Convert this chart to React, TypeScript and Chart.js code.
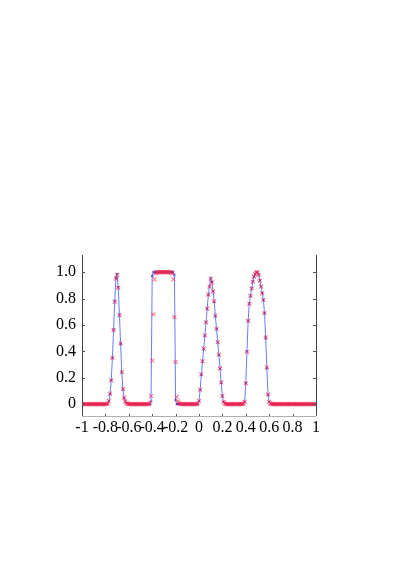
import React, { useEffect, useRef } from "react";
import { Chart, registerables } from "chart.js";

Chart.register(...registerables);

const xGrid = [
  -1.0, -0.99, -0.98, -0.97, -0.96, -0.95, -0.94, -0.93, -0.92, -0.91,
  -0.9, -0.89, -0.88, -0.87, -0.86, -0.85, -0.84, -0.83, -0.82, -0.81,
  -0.8, -0.79, -0.78, -0.77, -0.76, -0.75, -0.74, -0.73, -0.72, -0.71,
  -0.7, -0.69, -0.68, -0.67, -0.66, -0.65, -0.64, -0.63, -0.62, -0.61,
  -0.6, -0.59, -0.58, -0.57, -0.56, -0.55, -0.54, -0.53, -0.52, -0.51,
  -0.5, -0.49, -0.48, -0.47, -0.46, -0.45, -0.44, -0.43, -0.42, -0.41,
  -0.4, -0.39, -0.38, -0.37, -0.36, -0.35, -0.34, -0.33, -0.32, -0.31,
  -0.3, -0.29, -0.28, -0.27, -0.26, -0.25, -0.24, -0.23, -0.22, -0.21,
  -0.2, -0.19, -0.18, -0.17, -0.16, -0.15, -0.14, -0.13, -0.12, -0.11,
  -0.1, -0.09, -0.08, -0.07, -0.06, -0.05, -0.04, -0.03, -0.02, -0.01,
  0.0, 0.01, 0.02, 0.03, 0.04, 0.05, 0.06, 0.07, 0.08, 0.09,
  0.1, 0.11, 0.12, 0.13, 0.14, 0.15, 0.16, 0.17, 0.18, 0.19,
  0.2, 0.21, 0.22, 0.23, 0.24, 0.25, 0.26, 0.27, 0.28, 0.29,
  0.3, 0.31, 0.32, 0.33, 0.34, 0.35, 0.36, 0.37, 0.38, 0.39,
  0.4, 0.41, 0.42, 0.43, 0.44, 0.45, 0.46, 0.47, 0.48, 0.49,
  0.5, 0.51, 0.52, 0.53, 0.54, 0.55, 0.56, 0.57, 0.58, 0.59,
  0.6, 0.61, 0.62, 0.63, 0.64, 0.65, 0.66, 0.67, 0.68, 0.69,
  0.7, 0.71, 0.72, 0.73, 0.74, 0.75, 0.76, 0.77, 0.78, 0.79,
  0.8, 0.81, 0.82, 0.83, 0.84, 0.85, 0.86, 0.87, 0.88, 0.89,
  0.9, 0.91, 0.92, 0.93, 0.94, 0.95, 0.96, 0.97, 0.98, 0.99,
  1.0,
];

const redValues = [
  0, 0, 0, 0, 0, 0, 0, 0, 0, 0,
  0, 0, 0, 0, 0, 0, 0, 0, 0, 0,
  0, 0, 0.005, 0.025, 0.08, 0.18, 0.35, 0.56, 0.775, 0.95,
  0.98, 0.88, 0.675, 0.46, 0.245, 0.115, 0.05, 0.02, 0.008, 0.003,
  0, 0, 0, 0, 0, 0, 0, 0, 0, 0,
  0, 0, 0, 0, 0, 0, 0, 0, 0.01, 0.06,
  0.33, 0.68, 0.945, 0.99, 0.998, 1, 1, 1, 1, 1,
  1, 1, 1, 1, 1, 1, 0.998, 0.99, 0.945, 0.66,
  0.32, 0.055, 0.02, 0.008, 0.003, 0, 0, 0, 0, 0,
  0, 0, 0, 0, 0, 0, 0, 0, 0, 0.005,
  0.025, 0.11, 0.225, 0.325, 0.42, 0.52, 0.62, 0.725, 0.83, 0.89,
  0.95, 0.92, 0.855, 0.78, 0.67, 0.57, 0.47, 0.375, 0.27, 0.165,
  0.063, 0.017, 0.005, 0, 0, 0, 0, 0, 0, 0,
  0, 0, 0, 0, 0, 0, 0, 0, 0.004, 0.017,
  0.157, 0.395, 0.63, 0.76, 0.82, 0.875, 0.927, 0.965, 0.985, 0.997,
  1.0, 0.98, 0.935, 0.89, 0.84, 0.79, 0.69, 0.505, 0.278, 0.073,
  0.017, 0.005, 0, 0, 0, 0, 0, 0, 0, 0,
  0, 0, 0, 0, 0, 0, 0, 0, 0, 0,
  0, 0, 0, 0, 0, 0, 0, 0, 0, 0,
  0, 0, 0, 0, 0, 0, 0, 0, 0, 0,
  0,
];

const blueValues = [
  0, 0, 0, 0, 0, 0, 0, 0, 0, 0,
  0, 0, 0, 0, 0, 0, 0, 0, 0, 0,
  0, 0, 0.004, 0.022, 0.075, 0.18, 0.35, 0.565, 0.78, 0.955,
  0.985, 0.885, 0.675, 0.455, 0.24, 0.11, 0.045, 0.018, 0.006, 0.002,
  0, 0, 0, 0, 0, 0, 0, 0, 0, 0,
  0, 0, 0, 0, 0, 0, 0, 0, 0, 0.02,
  0.97, 1, 1, 1, 1, 1, 1, 1, 1, 1,
  1, 1, 1, 1, 1, 1, 1, 1, 1, 0.98,
  0.03, 0, 0, 0, 0, 0, 0, 0, 0, 0,
  0, 0, 0, 0, 0, 0, 0, 0, 0, 0.004,
  0.022, 0.108, 0.222, 0.322, 0.42, 0.52, 0.62, 0.722, 0.828, 0.892,
  0.955, 0.925, 0.855, 0.775, 0.668, 0.568, 0.468, 0.372, 0.268, 0.162,
  0.06, 0.015, 0.004, 0, 0, 0, 0, 0, 0, 0,
  0, 0, 0, 0, 0, 0, 0, 0, 0.003, 0.015,
  0.16, 0.4, 0.632, 0.762, 0.822, 0.877, 0.93, 0.967, 0.987, 0.998,
  1.0, 0.982, 0.937, 0.892, 0.842, 0.79, 0.69, 0.5, 0.272, 0.07,
  0.015, 0.004, 0, 0, 0, 0, 0, 0, 0, 0,
  0, 0, 0, 0, 0, 0, 0, 0, 0, 0,
  0, 0, 0, 0, 0, 0, 0, 0, 0, 0,
  0, 0, 0, 0, 0, 0, 0, 0, 0, 0,
  0,
];

const xTicks = [-1, -0.8, -0.6, -0.4, -0.2, 0, 0.2, 0.4, 0.6, 0.8, 1];
const yTicks = [0, 0.2, 0.4, 0.6, 0.8, 1.0];

const X_MIN = -1;
const X_MAX = 1;
const Y_MIN = -0.09;
const Y_MAX = 1.13;

const framePlugin = {
  id: "frame",
  afterDraw(chart: any) {
    const { ctx, chartArea } = chart;
    const { left, right, top, bottom } = chartArea;
    const xs = chart.scales.x;
    const ys = chart.scales.y;
    ctx.save();
    ctx.lineWidth = 1;
    ctx.strokeStyle = "#b0b0b0";
    ctx.beginPath();
    ctx.moveTo(left, Math.round(bottom) + 0.5);
    ctx.lineTo(right, Math.round(bottom) + 0.5);
    ctx.stroke();
    ctx.strokeStyle = "#444444";
    ctx.beginPath();
    ctx.moveTo(Math.round(left) + 0.5, top);
    ctx.lineTo(Math.round(left) + 0.5, bottom);
    ctx.moveTo(Math.round(right) + 0.5, top);
    ctx.lineTo(Math.round(right) + 0.5, bottom);
    ctx.stroke();
    ctx.strokeStyle = "#555555";
    ctx.beginPath();
    yTicks.forEach((v) => {
      const py = Math.round(ys.getPixelForValue(v)) + 0.5;
      ctx.moveTo(left, py);
      ctx.lineTo(left + 3, py);
      ctx.moveTo(right, py);
      ctx.lineTo(right - 3, py);
    });
    xTicks.forEach((v) => {
      const px = Math.round(xs.getPixelForValue(v)) + 0.5;
      ctx.moveTo(px, bottom);
      ctx.lineTo(px, bottom - 2);
    });
    ctx.stroke();
    ctx.restore();
  },
};

export default function App() {
  const canvasRef = useRef<HTMLCanvasElement | null>(null);

  useEffect(() => {
    if (!canvasRef.current) return;
    const bluePts = xGrid.map((x, i) => ({ x, y: blueValues[i] }));
    const redPts = xGrid.map((x, i) => ({ x, y: redValues[i] }));
    const chart = new Chart(canvasRef.current, {
      type: "line",
      data: {
        datasets: [
          {
            label: "red",
            data: redPts,
            showLine: false,
            borderColor: "rgba(250,40,75,0.62)",
            pointStyle: "crossRot",
            pointRadius: 2.8,
            pointBorderWidth: 1.1,
            pointBorderColor: "rgba(250,40,75,0.62)",
            pointBackgroundColor: "rgba(250,40,75,0.62)",
            fill: false,
          },
          {
            label: "blue",
            data: bluePts,
            borderColor: "rgba(80,100,255,0.85)",
            borderWidth: 1,
            pointStyle: "crossRot",
            pointRadius: 1.5,
            pointBorderWidth: 1,
            pointBorderColor: "rgba(40,40,200,0.85)",
            pointBackgroundColor: "rgba(40,40,200,0.85)",
            tension: 0,
            fill: false,
          },
        ],
      },
      options: {
        responsive: false,
        animation: false,
        events: [],
        layout: { padding: { top: 255, right: 87, left: 0, bottom: 0 } },
        plugins: {
          legend: { display: false },
          tooltip: { enabled: false },
        },
        scales: {
          x: {
            type: "linear",
            min: X_MIN,
            max: X_MAX,
            grid: { display: false, drawTicks: false },
            border: { display: false },
            afterBuildTicks: (scale: any) => {
              scale.ticks = xTicks.map((v) => ({ value: v }));
            },
            afterFit: (scale: any) => {
              scale.height = 570 - 416;
            },
            ticks: {
              autoSkip: false,
              maxRotation: 0,
              padding: 2,
              color: "#000",
              font: { family: "'Liberation Serif', 'DejaVu Serif', serif", size: 16 },
              callback: (v: any) => String(Math.round(Number(v) * 10) / 10),
            },
          },
          y: {
            type: "linear",
            min: Y_MIN,
            max: Y_MAX,
            grid: { display: false, drawTicks: false },
            border: { display: false },
            afterBuildTicks: (scale: any) => {
              scale.ticks = yTicks.map((v) => ({ value: v }));
            },
            afterFit: (scale: any) => {
              scale.width = 82;
            },
            ticks: {
              autoSkip: false,
              padding: 6,
              color: "#000",
              font: { family: "'Liberation Serif', 'DejaVu Serif', serif", size: 16 },
              callback: (v: any) => (Number(v) === 0 ? "0" : Number(v).toFixed(1)),
            },
          },
        },
      },
      plugins: [framePlugin],
    });
    return () => chart.destroy();
  }, []);

  return (
    <div style={{ position: "absolute", left: 0, top: 0, width: 403, height: 570, background: "#fff" }}>
      <canvas ref={canvasRef} width={403} height={570} />
    </div>
  );
}
